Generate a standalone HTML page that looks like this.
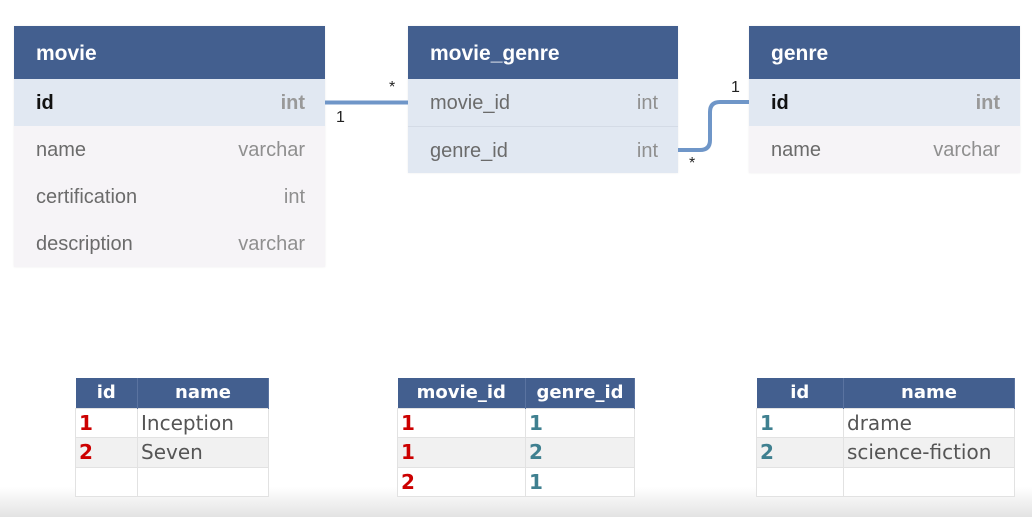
<!DOCTYPE html>
<html><head><meta charset="utf-8"><style>
*{margin:0;padding:0;box-sizing:border-box}
body{width:1032px;height:517px;overflow:hidden;background:#fff;position:relative;font-family:"Liberation Sans",sans-serif}
.bg{position:absolute;left:0;right:0;bottom:0;height:30px;background:linear-gradient(#fff,#e3e3e3)}
.t{position:absolute;background:#f6f4f7;box-shadow:0 0 2px rgba(0,0,0,.08)}
.h{background:#435f8f;color:#fff;font-weight:bold;font-size:21px;height:53px;line-height:55px;padding-left:22px}
.r{height:47px;line-height:49px;font-size:20px;color:#6b6b6b;padding:0 20px 0 22px;display:flex;justify-content:space-between}
.r span:last-child{color:#8f8f8f}
.k{background:#e1e8f2}
.k.pk span:first-child{color:#111;font-weight:bold}
.k.pk span:last-child{color:#999;font-weight:bold}
.lbl{position:absolute;font-size:16px;color:#222}
table{position:absolute;border-collapse:collapse;font-family:"DejaVu Sans",sans-serif}
th{background:#435f8f;color:#fff;font-weight:bold;font-size:18px;height:30px;border-right:1px solid #5a73a0}
td{height:29.5px;font-size:20px;color:#555;border:1px solid #e2e2e2;padding-left:3px;background:#fff}
tr:nth-child(3) td{background:#f1f1f1}
.a{color:#c00;font-weight:bold}.b{color:#3f8090;font-weight:bold}
</style></head><body>
<div class="bg"></div>
<div class="t" style="left:14px;top:26px;width:311px">
<div class="h">movie</div>
<div class="r k pk"><span>id</span><span>int</span></div>
<div class="r"><span>name</span><span>varchar</span></div>
<div class="r"><span>certification</span><span>int</span></div>
<div class="r"><span>description</span><span>varchar</span></div>
</div>
<div class="t" style="left:408px;top:26px;width:270px">
<div class="h">movie_genre</div>
<div class="r k"><span>movie_id</span><span>int</span></div>
<div class="r k" style="border-top:1px solid #d4dbe6"><span>genre_id</span><span>int</span></div>
</div>
<div class="t" style="left:749px;top:26px;width:271px">
<div class="h">genre</div>
<div class="r k pk"><span>id</span><span>int</span></div>
<div class="r"><span>name</span><span>varchar</span></div>
</div>
<svg width="1032" height="517" style="position:absolute;left:0;top:0">
<line x1="325" y1="102.5" x2="408" y2="102.5" stroke="#6f96c8" stroke-width="4"/>
<path d="M678 150 H700 Q710 150 710 140 V112 Q710 102 720 102 H749" fill="none" stroke="#6f96c8" stroke-width="4"/>
</svg>
<div class="lbl" style="left:336px;top:109px">1</div>
<div class="lbl" style="left:389px;top:79px">*</div>
<div class="lbl" style="left:731px;top:79px">1</div>
<div class="lbl" style="left:689px;top:155px">*</div>
<table style="left:75px;top:378px;width:194px">
<tr><th style="width:62px">id</th><th>name</th></tr>
<tr><td class="a">1</td><td>Inception</td></tr>
<tr><td class="a">2</td><td>Seven</td></tr>
<tr><td></td><td></td></tr>
</table>
<table style="left:397px;top:378px;width:238px">
<tr><th style="width:128px">movie_id</th><th>genre_id</th></tr>
<tr><td class="a">1</td><td class="b">1</td></tr>
<tr><td class="a">1</td><td class="b">2</td></tr>
<tr><td class="a">2</td><td class="b">1</td></tr>
</table>
<table style="left:756px;top:378px;width:259px">
<tr><th style="width:87px">id</th><th>name</th></tr>
<tr><td class="b">1</td><td>drame</td></tr>
<tr><td class="b">2</td><td>science-fiction</td></tr>
<tr><td></td><td></td></tr>
</table>
</body></html>
